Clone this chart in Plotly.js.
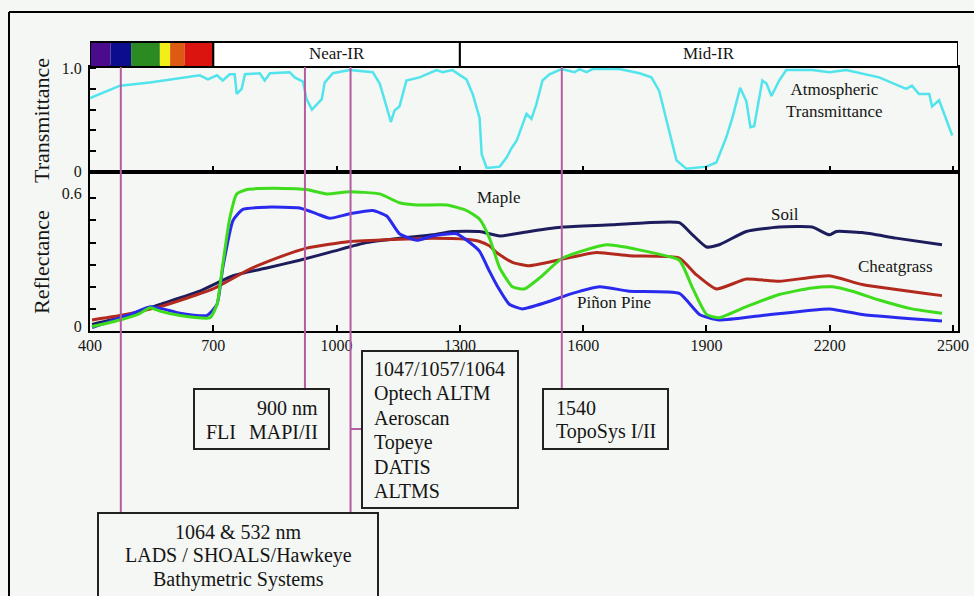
<!DOCTYPE html>
<html>
<head>
<meta charset="utf-8">
<script src="https://cdn.plot.ly/plotly-3.0.1.min.js"></script>
<style>
  html, body { margin: 0; padding: 0; background: #f4f7f3; }
  #chart { width: 974px; height: 596px; }
</style>
</head>
<body>
<div id="chart"></div>
<script>
// Wavelength axis (nm)
const xTicks = [400, 700, 1000, 1300, 1600, 1900, 2200, 2500];

// Atmospheric transmittance
const transNm = [400, 473, 546, 667, 687, 709, 723, 740, 752, 757, 769, 777, 813, 825, 838, 886, 898, 918, 927, 940,
  964, 971, 991, 1032, 1088, 1105, 1122, 1132, 1141, 1153, 1170, 1202, 1243, 1258, 1282, 1316, 1331, 1348, 1353, 1365,
  1372, 1397, 1414, 1426, 1438, 1462, 1474, 1486, 1501, 1518, 1547, 1579, 1591, 1608, 1623, 1688, 1737, 1766, 1785, 1810,
  1827, 1851, 1900, 1924, 1948, 1963, 1982, 1997, 2007, 2016, 2036, 2046, 2058, 2077, 2094, 2157, 2199, 2240, 2320, 2386,
  2400, 2417, 2442, 2449, 2466, 2498];
const transVal = [0.71, 0.83, 0.86, 0.93, 0.89, 0.93, 0.88, 0.94, 0.94, 0.75, 0.80, 0.94, 0.95, 0.88, 0.95, 0.96, 0.91, 0.87, 0.70, 0.60,
  0.70, 0.86, 0.95, 0.98, 0.96, 0.85, 0.62, 0.48, 0.59, 0.63, 0.88, 0.91, 0.98, 0.96, 0.98, 0.89, 0.75, 0.52, 0.17, 0.04,
  0.04, 0.05, 0.14, 0.23, 0.30, 0.56, 0.51, 0.65, 0.88, 0.94, 0.99, 0.96, 0.99, 0.96, 0.99, 0.99, 0.95, 0.91, 0.78, 0.39,
  0.11, 0.03, 0.05, 0.09, 0.33, 0.52, 0.81, 0.68, 0.43, 0.44, 0.88, 0.85, 0.73, 0.88, 0.98, 0.98, 0.96, 0.98, 0.91, 0.80,
  0.83, 0.75, 0.75, 0.63, 0.69, 0.35];

// Reflectance spectra
const mapleNm = [405, 473, 522, 546, 570, 619, 692, 709, 723, 740, 757, 782, 869, 927, 976, 1032, 1105, 1153, 1195, 1268,
  1316, 1348, 1372, 1397, 1428, 1457, 1494, 1550, 1657, 1754, 1834, 1866, 1900, 1931, 1997, 2077, 2157, 2206, 2255, 2320,
  2400, 2473];
const mapleVal = [0.02, 0.05, 0.08, 0.105, 0.09, 0.07, 0.06, 0.12, 0.30, 0.51, 0.62, 0.64, 0.645, 0.64, 0.62, 0.63, 0.62, 0.58, 0.57, 0.57,
  0.545, 0.505, 0.42, 0.285, 0.20, 0.19, 0.24, 0.33, 0.39, 0.36, 0.32, 0.195, 0.075, 0.06, 0.11, 0.165, 0.195, 0.20, 0.18, 0.14,
  0.10, 0.08];

const pinonNm = [405, 473, 505, 546, 577, 619, 684, 709, 723, 748, 772, 830, 910, 952, 983, 1032, 1088, 1122, 1153, 1195,
  1234, 1292, 1324, 1348, 1372, 1389, 1421, 1452, 1511, 1574, 1640, 1712, 1834, 1883, 1931, 2036, 2199, 2279, 2473];
const pinonVal = [0.015, 0.06, 0.08, 0.11, 0.10, 0.08, 0.07, 0.12, 0.285, 0.50, 0.55, 0.56, 0.556, 0.53, 0.51, 0.53, 0.545, 0.52, 0.44, 0.41,
  0.43, 0.44, 0.40, 0.36, 0.27, 0.21, 0.12, 0.10, 0.13, 0.17, 0.20, 0.18, 0.17, 0.075, 0.05, 0.07, 0.10, 0.075, 0.045];

const soilNm = [405, 473, 570, 667, 748, 830, 910, 991, 1073, 1153, 1234, 1282, 1348, 1397, 1469, 1550, 1671, 1754, 1834, 1866,
  1900, 1931, 1997, 2077, 2157, 2199, 2216, 2279, 2361, 2473];
const soilVal = [0.03, 0.06, 0.12, 0.18, 0.25, 0.285, 0.32, 0.36, 0.40, 0.42, 0.435, 0.45, 0.45, 0.43, 0.45, 0.47, 0.48, 0.49, 0.49, 0.435,
  0.38, 0.39, 0.45, 0.47, 0.47, 0.435, 0.45, 0.445, 0.42, 0.39];

const cheatNm = [405, 473, 570, 699, 789, 869, 927, 1032, 1153, 1234, 1316, 1348, 1372, 1389, 1428, 1469, 1550, 1632, 1712, 1834,
  1875, 1924, 1997, 2077, 2199, 2279, 2473];
const cheatVal = [0.05, 0.07, 0.11, 0.19, 0.28, 0.34, 0.375, 0.405, 0.415, 0.42, 0.415, 0.405, 0.385, 0.355, 0.31, 0.295, 0.325, 0.355, 0.34, 0.33,
  0.255, 0.19, 0.235, 0.225, 0.25, 0.21, 0.16];

// Visible colour band and spectral regions
const bandEdges = [400, 450, 500, 570, 595, 630, 700];
const bandColors = ['#4a0c8c', '#0c0c8e', '#2b8a22', '#f2ee18', '#dc5a12', '#dc1410'];
const regionNames = ['Near-IR', 'Mid-IR'];
const regionEdges = [700, 1300, 2512];

// Laser wavelength pointer lines (nm) and box texts
const pointerNm = [475, 923, 1034, 1548];
const boxFli = ['900 nm', 'FLI', 'MAPI/II'];
const boxOptech = ['1047/1057/1064', 'Optech ALTM', 'Aeroscan', 'Topeye', 'DATIS', 'ALTMS'];
const boxBathy = ['1064 &amp; 532 nm', 'LADS / SHOALS/Hawkeye', 'Bathymetric Systems'];
const boxToposys = ['1540', 'TopoSys I/II'];

// ---- geometry helpers (page pixels -> paper coordinates) ----
const PL = 90, PR = 958, PT = 67, PB = 331;
const xp = px => (px - PL) / (PR - PL);
const yp = py => (PB - py) / (PB - PT);
const nmAt = px => 400 + (px - PL) * (2512 - 400) / (PR - PL);

const SERIF = 'Liberation Serif, Times New Roman, serif';
const INK = '#151515';
const POINTER = '#b65ca2';

const lineTrace = (x, y, color, xa, ya, shape) => ({
  type: 'scatter', mode: 'lines', x, y, xaxis: xa, yaxis: ya,
  line: { color, width: 3, shape: shape || 'spline', smoothing: 0.5 },
  hoverinfo: 'skip'
});

const traces = [
  Object.assign(lineTrace(transNm, transVal, '#52e4ec', 'x', 'y', 'linear'), { line: { color: '#52e4ec', width: 2.5 } }),
  lineTrace(soilNm, soilVal, '#1d1d5e', 'x2', 'y2'),
  lineTrace(cheatNm, cheatVal, '#b22a1e', 'x2', 'y2'),
  lineTrace(pinonNm, pinonVal, '#2a2aee', 'x2', 'y2'),
  lineTrace(mapleNm, mapleVal, '#3edc1c', 'x2', 'y2')
];

const shapes = [];
const annotations = [];

// colour band
for (let i = 0; i < bandColors.length; i++) {
  shapes.push({ type: 'rect', xref: 'x', yref: 'paper', x0: bandEdges[i], x1: bandEdges[i + 1],
    y0: yp(67), y1: yp(42), fillcolor: bandColors[i], line: { width: 0 }, layer: 'above' });
}
shapes.push({ type: 'rect', xref: 'x', yref: 'paper', x0: 400, x1: 700, y0: yp(67), y1: yp(42),
  line: { color: '#000', width: 2 }, layer: 'above' });
for (let i = 0; i < regionNames.length; i++) {
  shapes.push({ type: 'rect', xref: 'x', yref: 'paper', x0: regionEdges[i], x1: regionEdges[i + 1],
    y0: yp(67), y1: yp(42), fillcolor: '#ffffff', line: { color: '#000', width: 2 }, layer: 'above' });
  annotations.push({ xref: 'x', yref: 'paper', x: (regionEdges[i] + regionEdges[i + 1]) / 2, y: yp(53),
    text: regionNames[i], showarrow: false, xanchor: 'center', yanchor: 'middle',
    font: { family: SERIF, size: 17, color: INK } });
}

// outer frame
shapes.push({ type: 'line', xref: 'paper', yref: 'paper', x0: xp(9), x1: xp(9), y0: yp(12), y1: yp(600),
  line: { color: '#000', width: 2 } });
shapes.push({ type: 'line', xref: 'paper', yref: 'paper', x0: xp(9), x1: xp(976), y0: yp(12), y1: yp(12),
  line: { color: '#000', width: 2 } });

// pointer lines
const pointerEnds = [513, 389, 513, 389];
pointerNm.forEach((nm, i) => {
  shapes.push({ type: 'line', xref: 'x', yref: 'paper', x0: nm, x1: nm, y0: yp(67), y1: yp(pointerEnds[i]),
    line: { color: POINTER, width: 2 }, layer: 'above' });
});
shapes.push({ type: 'line', xref: 'x', yref: 'paper', x0: pointerNm[2], x1: nmAt(362), y0: yp(429), y1: yp(429),
  line: { color: POINTER, width: 2 } });

// label boxes
const box = (x0, x1, y0, y1) => shapes.push({ type: 'rect', xref: 'paper', yref: 'paper',
  x0: xp(x0), x1: xp(x1), y0: yp(y1), y1: yp(y0), line: { color: '#222', width: 2 } });
box(194, 329, 389, 449);
box(362, 518, 351, 508);
box(98, 378, 513, 602);
box(543, 668, 389, 449);

const boxLine = (text, px, py, anchor) => annotations.push({ xref: 'paper', yref: 'paper', x: xp(px), y: yp(py),
  text, showarrow: false, xanchor: anchor, yanchor: 'middle', font: { family: SERIF, size: 20, color: INK } });

boxLine(boxFli[0], 320, 408, 'right');
boxLine(boxFli[1], 204, 432, 'left');
boxLine(boxFli[2], 320, 432, 'right');
boxOptech.forEach((t, i) => boxLine(t, 372, 369 + i * 24.4, 'left'));
boxBathy.forEach((t, i) => boxLine(t, 238, 532 + i * 23.5, 'center'));
boxToposys.forEach((t, i) => boxLine(t, 554, 408 + i * 23.5, 'left'));

// curve labels
const curveLabel = (text, x, y, xa, ya, anchor) => annotations.push({ xref: xa, yref: ya, x, y, text,
  showarrow: false, xanchor: anchor || 'center', yanchor: 'middle', align: 'center',
  font: { family: SERIF, size: 17, color: INK } });
curveLabel('Maple', 1336, 0.606, 'x2', 'y2', 'left');
curveLabel('Soil', 2091, 0.529, 'x2', 'y2');
curveLabel('Cheatgrass', 2359, 0.29, 'x2', 'y2');
curveLabel('Piñon Pine', 1676, 0.131, 'x2', 'y2');
curveLabel('Atmospheric<br>Transmittance', 2211, 0.684, 'x', 'y');

// vertical axis titles, placed beside each panel
const axisTitle = (text, py) => annotations.push({ xref: 'paper', yref: 'paper', x: xp(41), y: yp(py),
  text, textangle: -90, showarrow: false, xanchor: 'center', yanchor: 'middle',
  font: { family: SERIF, size: 22, color: INK } });
axisTitle('Transmittance', 121);
axisTitle('Reflectance', 262);

const axisCommon = {
  showline: true, linecolor: '#000', linewidth: 2, mirror: true,
  ticks: 'inside', ticklen: 6, tickwidth: 2, tickcolor: '#000',
  showgrid: false, zeroline: false, fixedrange: true,
  tickfont: { family: SERIF, size: 16, color: INK }
};

const layout = {
  width: 974, height: 596,
  paper_bgcolor: '#f4f7f3', plot_bgcolor: '#f4f7f3',
  margin: { l: PL, r: 974 - PR, t: PT, b: 596 - PB },
  showlegend: false,
  font: { family: SERIF, color: INK },
  xaxis: Object.assign({}, axisCommon, { anchor: 'y', domain: [0, 1], range: [400, 2512],
    tickvals: xTicks, showticklabels: false }),
  yaxis: Object.assign({}, axisCommon, { anchor: 'x', domain: [0.603, 1], range: [0, 1.01],
    tickvals: [0, 0.2, 0.4, 0.6, 0.8, 1.0], ticktext: ['0', '', '', '', '', '1.0'], ticklabelstandoff: 3 }),
  xaxis2: Object.assign({}, axisCommon, { anchor: 'y2', domain: [0, 1], range: [400, 2512],
    tickvals: xTicks, ticktext: xTicks.map(String), ticklabelstandoff: -1 }),
  yaxis2: Object.assign({}, axisCommon, { anchor: 'x2', domain: [0, 0.603], range: [0, 0.72],
    tickvals: [0, 0.1, 0.2, 0.3, 0.4, 0.5, 0.6], ticktext: ['0', '', '', '', '', '', '0.6'],
    ticklabelstandoff: 3, ticklabelshift: -5 }),
  shapes, annotations
};

Plotly.newPlot('chart', traces, layout, { staticPlot: true, displayModeBar: false });
</script>
</body>
</html>
